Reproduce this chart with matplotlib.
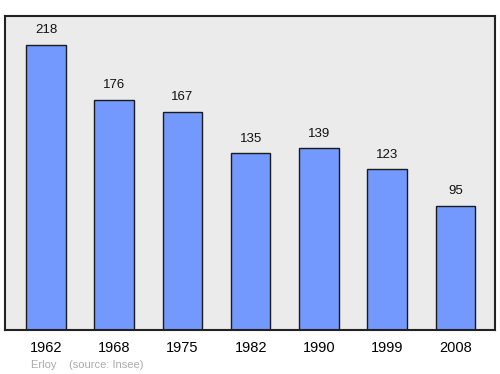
import matplotlib
matplotlib.use("Agg")
import matplotlib.pyplot as plt

plt.rcParams['font.family'] = ['Liberation Sans', 'DejaVu Sans']

# data
years = ["1962", "1968", "1975", "1982", "1990", "1999", "2008"]
population = [218, 176, 167, 135, 139, 123, 95]

fig = plt.figure(figsize=(5, 3.74), dpi=100)
ax = fig.add_axes([0.01, 0.1176, 0.98, 0.8396])
ax.set_facecolor("#ebebeb")

x = list(range(len(years)))
ax.bar(x, population, width=0.58, color="#7399ff", edgecolor="#1a1a1a", linewidth=1.0, zorder=2)

# value labels above bars
for xi, v in zip(x, population):
    ax.annotate(str(v), (xi, v), xytext=(0, 6), textcoords="offset points",
                ha="center", va="bottom", fontsize=9.5, color="#111111")

ax.set_xlim(-0.6, 6.58)
ax.set_ylim(0, 240)
ax.set_xticks(x)
ax.set_xticklabels(years, fontsize=10.5)
ax.tick_params(axis="x", length=0, pad=8)
ax.set_yticks([])
for s in ax.spines.values():
    s.set_linewidth(1.5)
    s.set_color("#222222")

fig.text(0.062, 0.012, "Erloy    (source: Insee)", fontsize=8, color="#aaaaaa", ha="left", va="bottom")

fig.savefig("out.png", dpi=100)
